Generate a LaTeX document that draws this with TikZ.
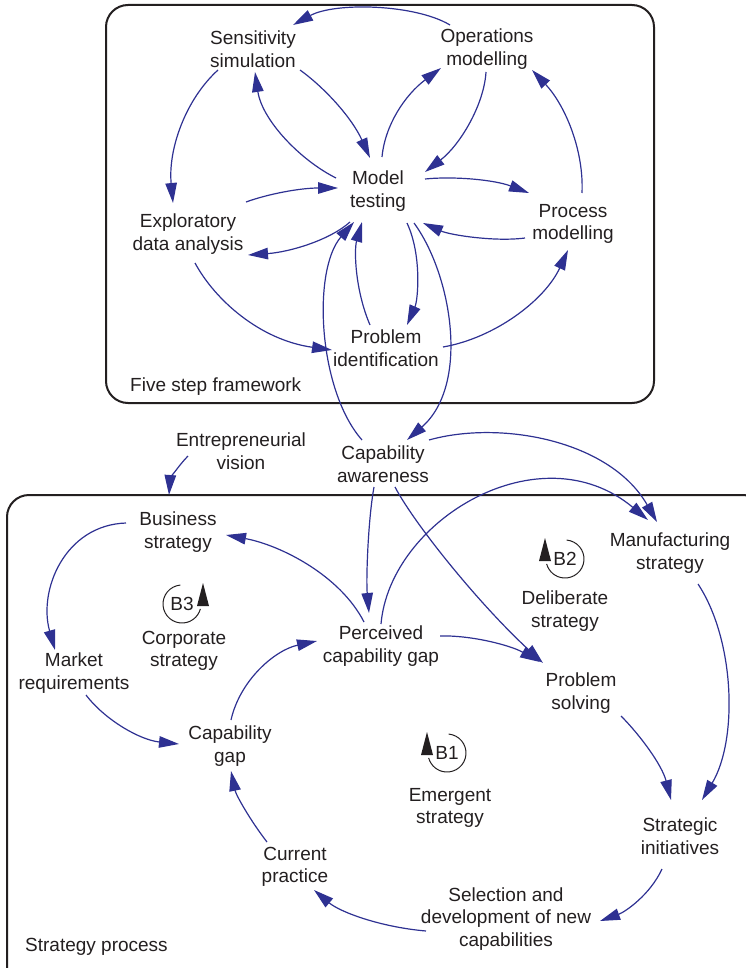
\documentclass[tikz,border=0pt]{standalone}
\usepackage{fontspec}
\setmainfont{Liberation Sans}
\usetikzlibrary{arrows.meta,calc}
\definecolor{arrblue}{RGB}{46,49,146}
\definecolor{ink}{RGB}{35,31,32}
\begin{document}
\begin{tikzpicture}[x=1pt,y=-1pt,
 lbl/.style={align=center,inner sep=0pt,text=ink,font=\fontsize{19}{22.5}\selectfont},
 arr/.style={draw=arrblue,line width=1.2pt,-{Triangle[length=20pt,width=11.5pt]}},
 framebox/.style={draw=ink,line width=2pt,rounded corners=22pt},
 loopc/.style={draw=ink,line width=1pt},
 looptip/.style={fill=ink}]
\useasboundingbox (0,0) rectangle (746,968);
% frames
\draw[framebox] (106,5) rectangle (654,403);
\draw[framebox] (7,495) rectangle (765,995);
% labels of frames
\node[lbl,anchor=west] (fsf) at (130,387) {Five step framework};
\node[lbl,anchor=west] (spr) at (25,947) {Strategy process};
% nodes top
\node[lbl] (sens) at (253,49) {Sensitivity\\simulation};
\node[lbl] (ops) at (487,49) {Operations\\modelling};
\node[lbl] (model) at (378,191) {Model\\testing};
\node[lbl] (expl) at (188,234) {Exploratory\\data analysis};
\node[lbl] (proc) at (573,224) {Process\\modelling};
\node[lbl] (prob) at (386,348) {Problem\\identification};
% nodes bottom
\node[lbl] (entv) at (241,451) {Entrepreneurial\\vision};
\node[lbl] (capaw) at (383,464) {Capability\\awareness};
\node[lbl] (bus) at (178,532) {Business\\strategy};
\node[lbl] (manu) at (670,553) {Manufacturing\\strategy};
\node[lbl] (perc) at (381,646) {Perceived\\capability gap};
\node[lbl] (mark) at (74,673) {Market\\requirements};
\node[lbl] (psolv) at (581,693) {Problem\\solving};
\node[lbl] (capg) at (230,746) {Capability\\gap};
\node[lbl] (strat) at (680,836) {Strategic\\initiatives};
\node[lbl] (cur) at (295,867) {Current\\practice};
\node[lbl] (sel) at (506,919) {Selection and\\development of new\\capabilities};
\node[lbl] (delib) at (565,611) {Deliberate\\strategy};
\node[lbl] (corp) at (184,651) {Corporate\\strategy};
\node[lbl] (emerg) at (450,808) {Emergent\\strategy};
% loops
\node[lbl] (B3) at (182,604) {B3};
\node[lbl] (B2) at (565,559) {B2};
\node[lbl] (B1) at (447,753) {B1};
\draw[loopc] ($(B3)+(95:19pt)$) arc[start angle=95,end angle=345,radius=19pt];
\fill[looptip] ($(B3)+(15,2)$) -- ($(B3)+(27,2)$) -- ($(B3)+(21,-21)$) -- cycle;
\draw[loopc] ($(B2)+(85:19pt)$) arc[start angle=85,end angle=-165,radius=19pt];
\fill[looptip] ($(B2)+(-26,2)$) -- ($(B2)+(-14,2)$) -- ($(B2)+(-20,-21)$) -- cycle;
\draw[loopc] ($(B1)+(85:19pt)$) arc[start angle=85,end angle=-165,radius=19pt];
\fill[looptip] ($(B1)+(-26,2)$) -- ($(B1)+(-14,2)$) -- ($(B1)+(-20,-21)$) -- cycle;
% connectors top
\draw[arr] ($(ops)+(-37,-24)$) .. controls (415,4) and (335,2) .. ($(sens)+(40,-24)$);
\draw[arr] ($(sens)+(-35,21)$) .. controls (185,100) and (168,150) .. ($(expl)+(-15,-31)$);
\draw[arr] ($(sens)+(47,21)$) .. controls (325,88) and (352,118) .. ($(model)+(-8,-33)$);
\draw[arr] ($(model)+(-42,-13)$) .. controls (300,160) and (262,120) .. ($(sens)+(2,23)$);
\draw[arr] ($(model)+(4,-34)$) .. controls (385,125) and (405,95) .. ($(ops)+(-46,19)$);
\draw[arr] ($(ops)+(-1,23)$) .. controls (484,105) and (460,145) .. ($(model)+(47,-19)$);
\draw[arr] ($(model)+(47,-12)$) .. controls (455,176) and (495,180) .. ($(proc)+(-44,-31)$);
\draw[arr] ($(proc)+(9,-31)$) .. controls (584,150) and (565,105) .. ($(ops)+(45,21)$);
\draw[arr] ($(proc)+(-48,14)$) .. controls (495,242) and (450,235) .. ($(model)+(45,32)$);
\draw[arr] ($(expl)+(58,-32)$) .. controls (268,194) and (300,188) .. ($(model)+(-40,-3)$);
\draw[arr] ($(model)+(-28,31)$) .. controls (330,240) and (290,252) .. ($(expl)+(60,21)$);
\draw[arr] ($(expl)+(7,29)$) .. controls (215,300) and (260,340) .. ($(prob)+(-54,2)$);
\draw[arr] ($(prob)+(57,-1)$) .. controls (495,338) and (545,300) .. ($(proc)+(-5,26)$);
\draw[arr] ($(model)+(29,32)$) .. controls (422,255) and (418,300) .. ($(prob)+(21,-23)$);
\draw[arr] ($(prob)+(-16,-23)$) .. controls (355,290) and (354,250) .. ($(model)+(-16,31)$);
\draw[arr] ($(capaw)+(-21,-24)$) .. controls (318,390) and (312,270) .. ($(model)+(-24,31)$);
\draw[arr] ($(model)+(36,32)$) .. controls (452,275) and (470,385) .. ($(capaw)+(24,-24)$);
% connectors bottom
\draw[arr] ($(entv)+(-53,5)$) .. controls (178,466) and (170,480) .. ($(bus)+(-9,-37)$);
\draw[arr] ($(capaw)+(46,-24)$) .. controls (500,420) and (610,440) .. ($(manu)+(-13,-31)$);
\draw[arr] ($(capaw)+(-9,23)$) .. controls (368,520) and (366,580) .. ($(perc)+(-12,-33)$);
\draw[arr] ($(capaw)+(12,23)$) .. controls (415,525) and (480,605) .. ($(psolv)+(-38,-30)$);
\draw[arr] ($(perc)+(0,-22)$) .. controls (390,520) and (540,430) .. ($(manu)+(-22,-33)$);
\draw[arr] ($(perc)+(-17,-24)$) .. controls (340,575) and (280,545) .. ($(bus)+(48,3)$);
\draw[arr] ($(bus)+(-52,-9)$) .. controls (65,525) and (38,590) .. ($(mark)+(-19,-23)$);
\draw[arr] ($(mark)+(12,22)$) .. controls (105,720) and (140,740) .. ($(capg)+(-51,-2)$);
\draw[arr] ($(capg)+(1,-26)$) .. controls (240,680) and (275,650) .. ($(perc)+(-64,-5)$);
\draw[arr] ($(perc)+(59,-10)$) .. controls (470,635) and (510,645) .. ($(psolv)+(-41,-31)$);
\draw[arr] ($(psolv)+(40,23)$) .. controls (640,735) and (662,765) .. ($(strat)+(-9,-36)$);
\draw[arr] ($(manu)+(28,31)$) .. controls (735,640) and (738,740) .. ($(strat)+(22,-36)$);
\draw[arr] ($(strat)+(-18,33)$) .. controls (650,895) and (625,912) .. ($(sel)+(94,2)$);
\draw[arr] ($(sel)+(-80,12)$) .. controls (380,927) and (340,912) .. ($(cur)+(19,23)$);
\draw[arr] ($(cur)+(-28,-25)$) .. controls (250,820) and (236,795) .. ($(capg)+(1,25)$);
\end{tikzpicture}
\end{document}
